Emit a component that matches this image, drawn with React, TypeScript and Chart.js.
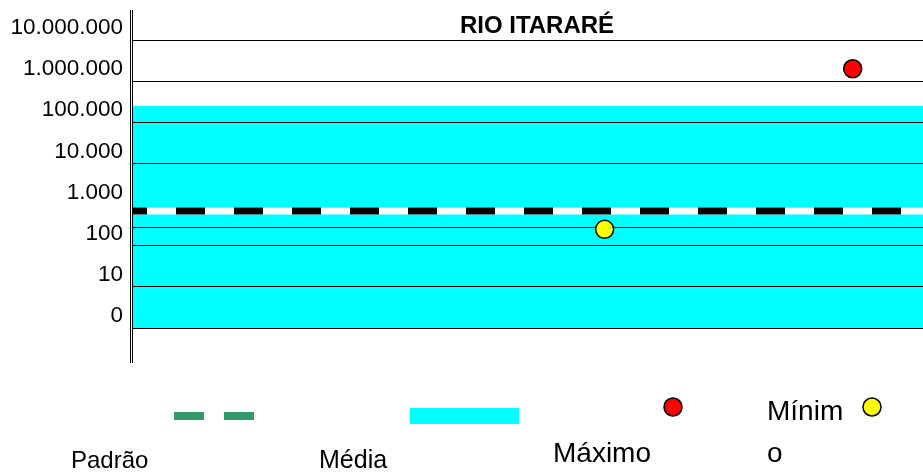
import { useEffect, useRef } from 'react';
import { Chart, registerables } from 'chart.js';

Chart.register(...registerables);

// Sampling summary for the river: standard, mean band and extremes (NMP/100 mL)
const titulo = 'RIO ITARARÉ';
const rotulosSeries = ['Padrão', 'Média', 'Máximo', 'Mínimo'];
const valoresEixo = [1, 10, 100, 1000, 10000, 100000, 1000000, 10000000];
const rotulosEixo = ['0', '10', '100', '1.000', '10.000', '100.000', '1.000.000', '10.000.000'];
const linhasExtras = [280];
const faixaX = [0, 1];
const padrao = [700, 700];
const media = [250000, 250000];
const maximoX = [0.911];
const maximo = [2000000];
const minimoX = [0.597];
const minimo = [250];

const FONTE = '"Liberation Sans", Arial, Helvetica, sans-serif';
const CIANO = '#00ffff';
const VERDE = '#339966';
const VERMELHO = '#ff0000';
const AMARELO = '#ffff00';

const pares = (xs: number[], ys: number[]) => xs.map((x, i) => ({ x, y: ys[i] }));

function circulo(ctx: CanvasRenderingContext2D, x: number, y: number, cor: string) {
  ctx.beginPath();
  ctx.arc(x, y, 9, 0, Math.PI * 2);
  ctx.fillStyle = cor;
  ctx.fill();
  ctx.lineWidth = 1.5;
  ctx.strokeStyle = '#000';
  ctx.stroke();
}

// Title, double axis rule and the free-form legend below the plot
const decoracao = {
  id: 'decoracao',
  afterDraw(chart: Chart) {
    const { ctx, chartArea } = chart;
    ctx.save();

    // double vertical rule on the value axis
    ctx.fillStyle = '#000';
    ctx.fillRect(chartArea.left - 3, 10, 1, 353);
    ctx.fillRect(chartArea.left - 1, 10, 1, 353);

    // title
    ctx.font = `bold 24px ${FONTE}`;
    ctx.textAlign = 'center';
    ctx.textBaseline = 'alphabetic';
    ctx.fillText(titulo, 537, 33);

    // legend
    ctx.textAlign = 'left';
    ctx.font = `24px ${FONTE}`;
    ctx.fillStyle = '#000';
    ctx.fillText(rotulosSeries[0], 71, 468);
    ctx.strokeStyle = VERDE;
    ctx.lineWidth = 8;
    ctx.setLineDash([30, 20]);
    ctx.beginPath();
    ctx.moveTo(174, 416);
    ctx.lineTo(254, 416);
    ctx.stroke();
    ctx.setLineDash([]);

    ctx.font = `25px ${FONTE}`;
    ctx.fillStyle = '#000';
    ctx.fillText(rotulosSeries[1], 319, 468);
    ctx.fillStyle = CIANO;
    ctx.fillRect(410, 408, 109, 16);

    ctx.font = `28px ${FONTE}`;
    ctx.fillStyle = '#000';
    ctx.fillText(rotulosSeries[2], 553, 462);
    circulo(ctx, 673, 407, VERMELHO);

    const minimoRotulo = rotulosSeries[3];
    ctx.fillStyle = '#000';
    ctx.fillText(minimoRotulo.slice(0, 5), 767, 420);
    ctx.fillText(minimoRotulo.slice(5), 767, 462);
    circulo(ctx, 872, 407, AMARELO);

    ctx.restore();
  },
};

export default function App() {
  const ref = useRef<HTMLCanvasElement>(null);

  useEffect(() => {
    const canvas = ref.current;
    if (!canvas) return;

    // lower `order` is painted on top
    const chart = new Chart(canvas, {
      type: 'line',
      data: {
        datasets: [
          {
            label: rotulosSeries[1],
            order: 5,
            data: pares(faixaX, media),
            fill: 'start',
            backgroundColor: CIANO,
            borderColor: 'rgba(0,0,0,0)',
            borderWidth: 0,
            pointRadius: 0,
          },
          {
            label: rotulosSeries[0],
            order: 4,
            data: pares(faixaX, padrao),
            fill: false,
            borderColor: '#ffffff',
            borderWidth: 7,
            pointRadius: 0,
          },
          {
            label: rotulosSeries[0],
            order: 3,
            data: pares(faixaX, padrao),
            fill: false,
            borderColor: '#000000',
            borderWidth: 7,
            borderDash: [29, 29],
            borderDashOffset: 15,
            pointRadius: 0,
          },
          {
            label: rotulosSeries[2],
            order: 2,
            data: pares(maximoX, maximo),
            showLine: false,
            pointRadius: 9,
            pointBorderWidth: 1.5,
            pointBackgroundColor: VERMELHO,
            backgroundColor: VERMELHO,
            pointBorderColor: '#000',
            borderColor: '#000',
          },
          {
            label: rotulosSeries[3],
            order: 1,
            data: pares(minimoX, minimo),
            showLine: false,
            pointRadius: 9,
            pointBorderWidth: 1.5,
            pointBackgroundColor: AMARELO,
            backgroundColor: AMARELO,
            pointBorderColor: '#000',
            borderColor: '#000',
          },
        ],
      },
      options: {
        responsive: false,
        animation: false,
        devicePixelRatio: 1,
        events: [],
        layout: { autoPadding: false, padding: { top: 40, bottom: 146, left: 0, right: 0 } },
        scales: {
          x: { type: 'linear', min: 0, max: 1, display: false },
          y: {
            type: 'logarithmic',
            min: 1,
            max: 10000000,
            afterBuildTicks: (scale: any) => {
              scale.ticks = [...valoresEixo, ...linhasExtras]
                .sort((a, b) => a - b)
                .map((value) => ({ value }));
            },
            afterFit: (scale: any) => {
              scale.width = 133;
            },
            border: { display: false },
            grid: {
              drawTicks: false,
              lineWidth: 1,
              // the standard line runs over the 1.000 level, so no rule there
              color: (c: any) => (c.tick && c.tick.value === 1000 ? 'rgba(0,0,0,0)' : '#000'),
            },
            ticks: {
              autoSkip: false,
              padding: 10,
              labelOffset: -12,
              color: '#000',
              font: { family: FONTE, size: 22.5 },
              callback: (value: any) => {
                const i = valoresEixo.indexOf(Number(value));
                return i >= 0 ? rotulosEixo[i] : '';
              },
            },
          },
        },
        plugins: {
          legend: { display: false },
          tooltip: { enabled: false },
          title: { display: false },
          filler: { drawTime: 'beforeDraw' },
        },
      } as any,
      plugins: [decoracao],
    });

    return () => chart.destroy();
  }, []);

  return (
    <div style={{ position: 'fixed', left: 0, top: 0, width: 923, height: 474, background: '#fff' }}>
      <canvas ref={ref} width={923} height={474} style={{ display: 'block', width: 923, height: 474 }} />
    </div>
  );
}
